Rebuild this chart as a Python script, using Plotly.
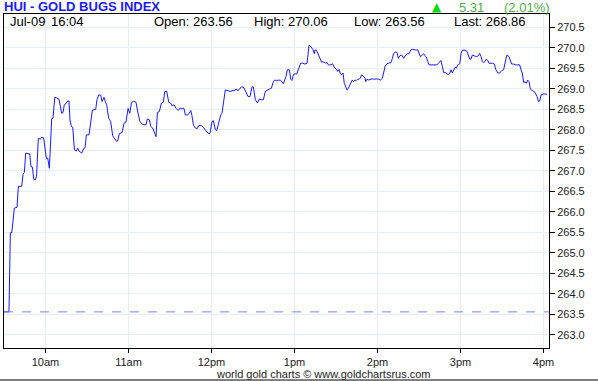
import plotly.graph_objects as go

# ---- data (minutes after 09:30, index value) ----
minutes = [0, 3.6, 4.6, 5.6, 7.5, 9.4, 10.4, 12.8, 13.8, 14.7, 15.7, 18.6, 19.5, 20.5, 21.5, 22.9, 23.6,
           24.8, 26.3, 27.3, 28.7, 29.7, 30.6, 31.6, 32.8, 34.5, 35.4, 36.7, 37.9, 39.8, 40.8, 41.7, 42.7,
           43.6, 44.6, 46.0, 47.0, 47.7, 48.7, 49.7, 50.9, 52.3, 53.3, 54.2, 56.2, 57.6, 58.6, 59.5, 61.5,
           62.4, 63.9, 66.3, 67.2, 68.5, 69.9, 70.9, 72.3, 73.3, 74.2, 75.7, 77.1, 78.6, 80.0, 81.5, 82.4,
           83.4, 85.3, 86.8, 88.2, 89.7, 90.9, 92.1, 93.5, 95.4, 96.9, 98.3, 99.8, 101.2, 102.7, 103.6,
           105.1, 106.1, 107.5, 108.9, 109.9, 110.9, 112.3, 113.8, 115.2, 116.2, 117.6, 119.1, 120.5,
           121.5, 122.9, 124.4, 125.8, 127.3, 130.1, 131.1, 132.6, 134.0, 135.0, 135.9, 136.9, 138.3,
           139.8, 140.7, 142.7, 144.1, 146.0, 147.5, 148.9, 150.4, 151.4, 152.8, 153.8, 155.2, 156.7,
           157.6, 158.6, 160.0, 162.0, 163.4, 164.8, 166.3, 167.7, 169.2, 170.6, 172.1, 173.5, 175.0,
           176.4, 177.9, 179.3, 180.3, 181.7, 183.2, 184.6, 186.1, 187.5, 188.9, 190.4, 191.8, 193.3,
           194.7, 195.7, 197.1, 198.6, 200.0, 201.0, 202.0, 202.9, 203.9, 204.8, 206.3, 207.3, 208.2,
           209.2, 210.2, 211.6, 213.0, 214.5, 215.9, 217.6, 219.1, 220.5, 221.5, 222.4, 223.4, 224.4,
           224.8, 225.8, 226.8, 227.7, 228.7, 229.7, 230.6, 231.6, 232.6, 233.5, 234.5, 235.5, 236.4,
           237.4, 238.3, 239.3, 240.3, 241.2, 242.2, 243.2, 244.1, 245.1, 246.0, 247.0, 248.0, 248.9,
           249.9, 250.9, 251.8, 252.8, 253.8, 254.7, 255.7, 256.7, 257.6, 258.6, 259.5, 261.0, 261.5,
           262.4, 263.4, 264.8, 266.3, 267.7, 269.2, 270.6, 272.1, 273.5, 274.5, 275.5, 276.9, 278.3,
           279.8, 280.8, 281.7, 283.2, 284.1, 285.1, 286.1, 287.5, 289.0, 289.9, 291.4, 292.8, 293.3,
           294.2, 295.2, 296.7, 298.1, 299.1, 300.0, 301.0, 302.4, 303.4, 304.4, 305.3, 306.3, 307.3,
           308.7, 310.2, 311.6, 313.0, 314.0, 315.0, 315.9, 316.9, 317.9, 319.3, 320.3, 321.2, 322.2,
           323.2, 324.1, 325.1, 326.1, 327.0, 328.0, 329.5, 330.4, 331.4, 333.3, 334.7, 335.7, 336.7,
           337.6, 338.6, 340.0, 341.5, 342.9, 343.9, 344.9, 345.8, 346.8, 347.7, 348.7, 349.7, 350.6,
           353.0, 354.5, 355.5, 356.9, 358.3, 359.8, 361.2, 362.7, 363.6, 365.1, 366.1, 367.0, 368.5,
           369.9, 371.4, 372.8, 373.8, 374.7, 375.7, 376.7, 377.6, 378.6, 379.6, 380.5, 382.0, 383.4,
           384.4, 385.4, 386.3, 387.3, 388.3, 389.7, 391.2, 392.6]
prices = [263.56, 263.56, 265.49, 265.49, 266.09, 266.11, 266.62, 266.62, 266.92, 266.96, 267.43, 267.41,
          267.10, 267.09, 266.79, 266.79, 266.90, 267.79, 267.77, 267.82, 267.80, 267.51, 267.30, 267.31,
          267.06, 268.27, 268.28, 268.79, 268.78, 268.74, 268.55, 268.40, 268.42, 268.61, 268.63, 268.70,
          268.70, 268.24, 268.08, 268.06, 267.51, 267.48, 267.55, 267.48, 267.43, 267.54, 267.56, 267.87,
          267.88, 268.16, 268.48, 268.49, 268.73, 268.85, 268.84, 268.69, 268.79, 268.68, 268.61, 268.28,
          268.20, 267.85, 267.79, 267.71, 267.75, 267.91, 267.93, 268.16, 268.19, 268.52, 268.40, 268.65,
          268.70, 268.67, 268.40, 268.20, 268.14, 268.12, 268.12, 268.26, 268.24, 268.08, 268.04, 267.91,
          267.83, 268.42, 268.44, 268.65, 268.67, 268.93, 268.94, 268.67, 268.65, 268.58, 268.61, 268.52,
          268.47, 268.52, 268.52, 268.36, 268.36, 268.40, 268.47, 268.34, 268.12, 268.04, 268.03, 268.10,
          268.10, 268.06, 267.98, 267.91, 267.91, 268.20, 268.22, 268.00, 267.98, 268.20, 268.36, 268.40,
          268.69, 268.97, 268.95, 268.93, 268.95, 268.95, 268.99, 268.95, 269.01, 269.05, 269.02, 268.93,
          268.81, 268.81, 269.05, 269.04, 268.73, 268.65, 268.75, 268.73, 268.73, 268.93, 268.97, 268.99,
          269.01, 269.17, 269.21, 269.20, 269.21, 269.20, 269.17, 269.12, 269.21, 269.30, 269.46, 269.46,
          269.23, 269.20, 269.34, 269.36, 269.36, 269.47, 269.62, 269.62, 269.60, 269.62, 270.06, 270.04,
          269.99, 269.95, 269.85, 269.94, 269.94, 269.85, 269.78, 269.72, 269.64, 269.66, 269.64, 269.62,
          269.64, 269.58, 269.58, 269.58, 269.61, 269.54, 269.50, 269.47, 269.42, 269.47, 269.36, 269.34,
          269.38, 269.13, 269.04, 268.97, 269.01, 269.09, 269.13, 269.21, 269.17, 269.21, 269.20, 269.23,
          269.23, 269.26, 269.34, 269.31, 269.26, 269.17, 269.23, 269.21, 269.23, 269.24, 269.23, 269.24,
          269.23, 269.21, 269.25, 269.38, 269.54, 269.61, 269.62, 269.64, 269.74, 269.86, 269.90, 269.88,
          269.74, 269.80, 269.82, 269.74, 269.80, 269.85, 269.85, 269.90, 269.95, 269.96, 269.94, 269.94,
          269.95, 269.85, 269.78, 269.82, 269.85, 269.80, 269.77, 269.66, 269.58, 269.58, 269.58, 269.58,
          269.58, 269.62, 269.66, 269.69, 269.54, 269.39, 269.39, 269.36, 269.34, 269.38, 269.46, 269.38,
          269.47, 269.52, 269.50, 269.58, 269.61, 269.86, 269.94, 269.94, 269.91, 269.80, 269.72, 269.72,
          269.82, 269.80, 269.78, 269.80, 269.86, 269.78, 269.66, 269.64, 269.66, 269.72, 269.69, 269.62,
          269.62, 269.60, 269.47, 269.39, 269.38, 269.44, 269.46, 269.70, 269.82, 269.78, 269.70, 269.60,
          269.60, 269.58, 269.58, 269.58, 269.46, 269.38, 269.15, 269.17, 269.13, 269.21, 269.17, 268.99,
          268.95, 268.93, 268.87, 268.81, 268.69, 268.70, 268.85, 268.87, 268.87, 268.86]

tick_hours = [10, 11, 12, 13, 14, 15, 16]
tick_labels = ["10am", "11am", "12pm", "1pm", "2pm", "3pm", "4pm"]

title = "HUI - GOLD BUGS INDEX"
stamp_date = "Jul-09"
stamp_time = "16:04"
open_price = 263.56
high_price = 270.06
low_price = 263.56
last_price = 268.86
change = 5.31
change_pct = 2.01
footer = "world gold charts \u00a9 www.goldchartsrus.com"

hours = [9.5 + m / 60.0 for m in minutes]

FONT = "Liberation Sans, Arial, sans-serif"
W, H = 598, 381
L, R, T, B = 4, 49, 14, 33
PW, PH = W - L - R, H - T - B


def px(x):
    return (x - L) / PW


def py(y):
    return (H - B - y) / PH


fig = go.Figure()
fig.add_trace(go.Scatter(x=hours, y=prices, mode="lines",
                         line=dict(color="#1a1aff", width=1), hoverinfo="skip"))
fig.add_hline(y=open_price, line=dict(color="#7f7fff", width=1, dash="dash"))

grid = "#e4eff8"
fig.update_layout(
    width=W, height=H, margin=dict(l=L, r=R, t=T, b=B),
    paper_bgcolor="white", plot_bgcolor="white", showlegend=False,
    font=dict(family=FONT, size=11, color="#222"),
    xaxis=dict(range=[9.5, 9.5 + 394 / 60.0], tickvals=tick_hours, ticktext=tick_labels,
               showgrid=True, gridcolor=grid, gridwidth=1, zeroline=False,
               showline=True, linecolor="black", linewidth=1, mirror=True,
               ticks="outside", ticklen=4, tickcolor="black",
               tickfont=dict(family=FONT, size=11, color="#222")),
    yaxis=dict(range=[262.68, 270.82], side="right", tick0=263.0, dtick=0.5, tickformat=".1f",
               showgrid=True, gridcolor=grid, gridwidth=1, zeroline=False,
               showline=True, linecolor="black", linewidth=1, mirror=True,
               ticks="outside", ticklen=5, tickcolor="black",
               tickfont=dict(family=FONT, size=11, color="#222")),
)

anns = []
anns.append(dict(text="<b>%s</b>" % title, x=px(2), y=py(6.5), xanchor="left", yanchor="middle",
                 font=dict(family=FONT, size=13, color="#1a1aff")))
anns.append(dict(text="\u25b2", x=px(437), y=py(7), xanchor="center", yanchor="middle",
                 font=dict(family="DejaVu Sans, sans-serif", size=12, color="#00dd00")))
anns.append(dict(text="%.2f" % change, x=px(457), y=py(7), xanchor="left", yanchor="middle",
                 font=dict(family=FONT, size=13, color="#4cb040")))
anns.append(dict(text="(%.2f%%)" % change_pct, x=px(502), y=py(7), xanchor="left", yanchor="middle",
                 font=dict(family=FONT, size=13, color="#4cb040")))
hdr = [(8, stamp_date), (49, stamp_time), (152, "Open: %.2f" % open_price),
       (252, "High: %.2f" % high_price), (352, "Low: %.2f" % low_price),
       (452, "Last: %.2f" % last_price)]
for xx, tx in hdr:
    anns.append(dict(text=tx, x=px(xx), y=py(22), xanchor="left", yanchor="middle",
                     font=dict(family=FONT, size=13, color="black")))
anns.append(dict(text=footer, x=px(323), y=py(374), xanchor="center", yanchor="middle",
                 font=dict(family=FONT, size=11, color="#222")))
for a in anns:
    a.update(xref="paper", yref="paper", showarrow=False)
fig.update_layout(annotations=anns)

fig.add_shape(type="line", xref="paper", yref="paper", x0=px(0), x1=px(W), y0=py(380), y1=py(380),
              line=dict(color="black", width=1))

fig.write_html("out.html")
